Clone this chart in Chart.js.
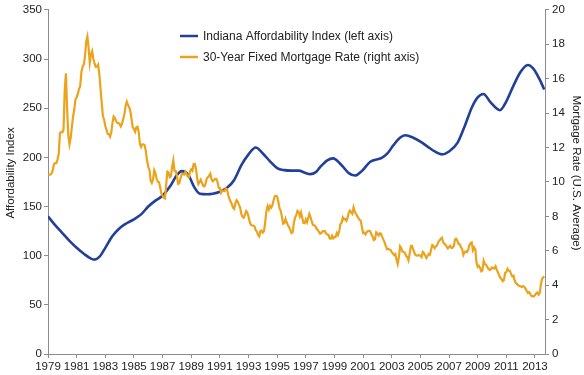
<!DOCTYPE html>
<html>
<head>
<meta charset="utf-8">
<script src="https://cdn.jsdelivr.net/npm/chart.js@4/dist/chart.umd.min.js"></script>
<style>
  html, body { margin: 0; padding: 0; background: #fff; }
  #wrap { width: 584px; height: 375px; position: relative; }
</style>
</head>
<body>
<div id="wrap"><canvas id="chart" width="584" height="375"></canvas></div>
<script>
// Indiana Affordability Index (left axis), smooth series
const affordYears = [
  1979.0, 1979.5, 1980.0, 1980.5, 1981.0, 1981.5, 1982.0, 1982.25, 1982.6, 1983.0,
  1983.5, 1984.0, 1984.5, 1985.0, 1985.5, 1986.0, 1986.5, 1987.0, 1987.5, 1988.0,
  1988.35, 1988.8, 1989.2, 1989.6, 1990.1, 1990.5, 1991.0, 1991.5, 1992.0, 1992.5,
  1993.0, 1993.5, 1994.0, 1994.5, 1995.0, 1995.5, 1996.0, 1996.5, 1997.0, 1997.3,
  1997.7, 1998.0, 1998.5, 1998.9, 1999.5, 2000.0, 2000.45, 2000.9, 2001.5, 2002.3,
  2002.7, 2003.1, 2003.5, 2003.95, 2004.5, 2005.0, 2005.5, 2006.0, 2006.5, 2007.0,
  2007.6, 2008.1, 2008.6, 2009.0, 2009.4, 2009.9, 2010.55, 2011.0, 2011.5, 2012.0,
  2012.5, 2012.9, 2013.3, 2013.65
]
const affordIndex = [
  140, 131, 123, 115, 108, 102, 97, 96, 99, 108,
  120, 128, 133, 137, 142, 150, 156, 161, 170, 182,
  186, 182, 170, 163, 162.5, 163, 165, 169, 177, 192,
  203, 210, 204, 196, 189, 187, 186.5, 186.5, 184, 183,
  185, 190, 197, 199, 192, 184, 181.5, 186, 195.5, 199.5,
  204, 212, 219, 222.5, 220, 216, 211, 206, 203, 206,
  215, 232, 251, 261, 264.5, 256, 248, 257, 273, 287,
  294, 290, 280, 269
]

// 30-year fixed mortgage rate (right axis), monthly from Jan 1979
const rateStartYear = 1979
const mortgageRates = [
  10.39, 10.41, 10.43, 10.50, 10.69, 11.04, 11.09, 11.09, 11.30, 11.64, 12.83, 12.90,
  12.88, 13.04, 15.28, 16.32, 14.26, 12.71, 12.19, 12.56, 13.20, 13.79, 14.21, 14.79,
  14.90, 15.13, 15.40, 15.58, 16.40, 16.70, 16.83, 17.29, 18.16, 18.45, 17.83, 16.92,
  17.40, 17.60, 17.16, 16.89, 16.68, 16.70, 16.82, 16.27, 15.43, 14.61, 13.83, 13.62,
  13.25, 13.04, 12.80, 12.78, 12.63, 12.87, 13.42, 13.81, 13.73, 13.54, 13.44, 13.42,
  13.37, 13.23, 13.39, 13.65, 13.94, 14.42, 14.67, 14.47, 14.35, 14.13, 13.64, 13.18,
  13.08, 12.92, 13.17, 13.20, 12.91, 12.22, 12.03, 12.19, 12.19, 12.14, 11.78, 11.26,
  10.88, 10.71, 10.08, 9.94, 10.14, 10.68, 10.51, 10.20, 10.01, 9.98, 9.70, 9.32,
  9.20, 9.08, 9.04, 9.83, 10.60, 10.54, 10.28, 10.33, 10.89, 11.26, 10.65, 10.64,
  10.38, 9.89, 9.93, 10.20, 10.46, 10.46, 10.43, 10.60, 10.48, 10.30, 10.27, 10.61,
  10.73, 10.65, 11.03, 11.05, 10.77, 10.20, 9.88, 9.99, 10.13, 9.95, 9.77, 9.74,
  9.90, 10.20, 10.27, 10.37, 10.48, 10.16, 10.04, 10.10, 10.18, 10.18, 10.01, 9.67,
  9.64, 9.37, 9.50, 9.49, 9.47, 9.62, 9.58, 9.24, 9.01, 8.86, 8.71, 8.50,
  8.43, 8.76, 8.94, 8.85, 8.67, 8.51, 8.13, 7.98, 7.92, 8.09, 8.31, 8.22,
  7.99, 7.68, 7.50, 7.47, 7.47, 7.42, 7.21, 7.11, 6.92, 6.83, 7.16, 7.17,
  7.06, 7.15, 7.68, 8.32, 8.60, 8.40, 8.61, 8.51, 8.64, 8.93, 9.17, 9.20,
  9.15, 8.83, 8.46, 8.32, 7.96, 7.57, 7.61, 7.86, 7.64, 7.48, 7.38, 7.20,
  7.03, 7.08, 7.62, 7.93, 8.07, 8.32, 8.25, 8.00, 8.23, 7.92, 7.62, 7.60,
  7.82, 7.65, 7.90, 8.14, 7.94, 7.69, 7.50, 7.48, 7.43, 7.29, 7.21, 7.10,
  6.99, 7.04, 7.13, 7.14, 7.14, 7.00, 6.95, 6.92, 6.72, 6.71, 6.87, 6.72,
  6.79, 6.81, 7.04, 6.92, 7.15, 7.55, 7.63, 7.94, 7.82, 7.85, 7.74, 7.91,
  8.21, 8.33, 8.24, 8.15, 8.52, 8.29, 8.15, 8.03, 7.91, 7.80, 7.75, 7.38,
  7.03, 7.05, 6.95, 7.08, 7.15, 7.16, 7.13, 6.95, 6.82, 6.62, 6.66, 7.07,
  7.00, 6.89, 7.01, 6.99, 6.81, 6.65, 6.49, 6.29, 6.09, 6.11, 6.07, 6.05,
  5.92, 5.84, 5.75, 5.81, 5.48, 5.23, 5.63, 6.26, 6.15, 5.95, 5.93, 5.88,
  5.71, 5.64, 5.45, 5.83, 6.27, 6.29, 6.06, 5.87, 5.75, 5.72, 5.73, 5.75,
  5.71, 5.63, 5.93, 5.86, 5.72, 5.58, 5.70, 5.82, 5.77, 6.07, 6.33, 6.27,
  6.15, 6.25, 6.32, 6.51, 6.60, 6.68, 6.76, 6.52, 6.40, 6.36, 6.24, 6.14,
  6.22, 6.29, 6.16, 6.18, 6.26, 6.66, 6.70, 6.57, 6.38, 6.38, 6.21, 6.10,
  5.76, 5.92, 5.97, 5.92, 6.04, 6.32, 6.43, 6.48, 6.04, 6.20, 6.09, 5.33,
  5.06, 5.13, 5.00, 4.81, 4.86, 5.42, 5.22, 5.19, 5.06, 4.95, 4.88, 4.93,
  5.03, 4.99, 4.97, 5.10, 4.89, 4.74, 4.56, 4.43, 4.35, 4.23, 4.30, 4.71,
  4.76, 4.95, 4.84, 4.84, 4.64, 4.51, 4.55, 4.27, 4.11, 4.07, 3.99, 3.96,
  3.92, 3.89, 3.95, 3.91, 3.80, 3.68, 3.55, 3.60, 3.50, 3.38, 3.35, 3.35,
  3.41, 3.53, 3.57, 3.45, 3.54, 4.07, 4.37, 4.46, 4.49
]

const yearTicks = [1979, 1981, 1983, 1985, 1987, 1989, 1991, 1993, 1995, 1997,
  1999, 2001, 2003, 2005, 2007, 2009, 2011, 2013]

const BLUE = "#21409a"
const ORANGE = "#eba31c"
const INK = "#222"
const AXIS = "#8c8c8c"
const FONT = "'Liberation Sans', Arial, sans-serif"

const affordPoints = affordYears.map((x, i) => ({ x, y: affordIndex[i] }))
const ratePoints = mortgageRates.map((y, i) => ({ x: rateStartYear + i / 12, y }))

// legend drawn inside the plot, like the original
const insideLegend = {
  id: "insideLegend",
  afterDraw(chart) {
    const ctx = chart.ctx
    const x0 = 180, y0 = 36, gap = 21
    ctx.save()
    ctx.font = "12px " + FONT
    ctx.textBaseline = "middle"
    chart.data.datasets.forEach((ds, i) => {
      const y = y0 + i * gap
      ctx.strokeStyle = ds.borderColor
      ctx.lineWidth = 2.5
      ctx.beginPath()
      ctx.moveTo(x0, y)
      ctx.lineTo(x0 + 18, y)
      ctx.stroke()
      ctx.fillStyle = INK
      ctx.fillText(ds.label, x0 + 23, y + 0.5)
    })
    ctx.restore()
  }
}

// axis titles sit a little above the middle of the plot in the original
const axisTitles = {
  id: "axisTitles",
  afterDraw(chart) {
    const ctx = chart.ctx
    const a = chart.chartArea
    const mid = (a.top + a.bottom) / 2 - 9
    ctx.save()
    ctx.font = "11.5px " + FONT
    ctx.fillStyle = INK
    ctx.textAlign = "center"
    ctx.textBaseline = "middle"
    ctx.translate(11, mid)
    ctx.rotate(-Math.PI / 2)
    ctx.fillText(chart.scales.y.options.title.text, 0, 0)
    ctx.restore()
    ctx.save()
    ctx.font = "11.5px " + FONT
    ctx.fillStyle = INK
    ctx.textAlign = "center"
    ctx.textBaseline = "middle"
    ctx.translate(576, mid)
    ctx.rotate(Math.PI / 2)
    ctx.fillText(chart.scales.y1.options.title.text, 0, 0)
    ctx.restore()
  }
}

Chart.defaults.font.family = FONT
Chart.defaults.font.size = 11.5
Chart.defaults.color = INK

new Chart(document.getElementById("chart"), {
  type: "line",
  data: {
    datasets: [
      {
        label: "Indiana Affordability Index (left axis)",
        data: affordPoints,
        yAxisID: "y",
        borderColor: BLUE,
        borderWidth: 2.6,
        pointRadius: 0,
        cubicInterpolationMode: "monotone",
        order: 2
      },
      {
        label: "30-Year Fixed Mortgage Rate (right axis)",
        data: ratePoints,
        yAxisID: "y1",
        borderColor: ORANGE,
        borderWidth: 2.2,
        pointRadius: 0,
        tension: 0,
        order: 1
      }
    ]
  },
  options: {
    responsive: false,
    animation: false,
    events: [],
    layout: { padding: { top: 7, right: 0, bottom: 0, left: 0 } },
    plugins: { legend: { display: false }, tooltip: { enabled: false } },
    scales: {
      x: {
        type: "linear",
        min: 1979,
        max: 2013.7,
        afterBuildTicks(scale) { scale.ticks = yearTicks.map((v) => ({ value: v })) },
        afterFit(scale) { scale.height = 21 },
        ticks: { callback: (v) => String(v), maxRotation: 0, autoSkip: false, padding: 2 },
        grid: { drawOnChartArea: false, tickLength: 4, color: AXIS },
        border: { color: AXIS }
      },
      y: {
        position: "left",
        min: 0,
        max: 350,
        afterFit(scale) { scale.width = 48 },
        ticks: { stepSize: 50, padding: 2 },
        grid: { drawOnChartArea: false, tickLength: 4, color: AXIS },
        border: { color: AXIS },
        title: { display: false, text: "Affordability Index" }
      },
      y1: {
        position: "right",
        min: 0,
        max: 20,
        afterFit(scale) { scale.width = 39 },
        ticks: { stepSize: 2, padding: 3 },
        grid: { drawOnChartArea: false, tickLength: 4, color: AXIS },
        border: { color: AXIS },
        title: { display: false, text: "Mortgage Rate (U.S. Average)" }
      }
    }
  },
  plugins: [insideLegend, axisTitles]
})
</script>
</body>
</html>
